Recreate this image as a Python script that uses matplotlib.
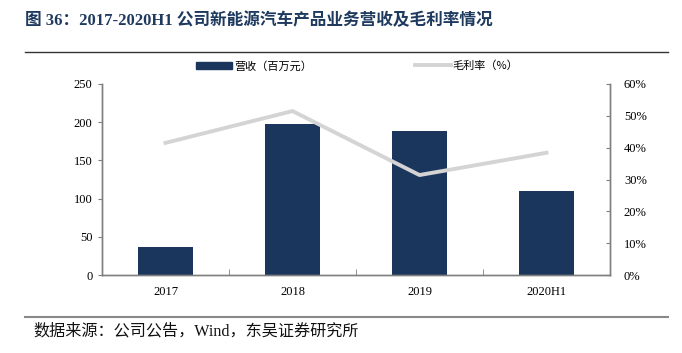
import matplotlib
matplotlib.use("Agg")
import matplotlib.pyplot as plt
from matplotlib.lines import Line2D
from matplotlib.patches import Patch
from matplotlib.ticker import PercentFormatter

categories = ["2017", "2018", "2019", "2020H1"]
revenue = [36, 198, 189, 110]          # 百万元
gross_margin = [41.5, 51.5, 31.4, 38.4]  # %

bar_color = "#1b365d"
line_color = "#d4d4d4"
spine_color = "#7f7f7f"
fam = ["Liberation Serif", "Noto Sans CJK SC"]

plt.rcParams["font.family"] = fam

fig = plt.figure(figsize=(6.82, 3.53), dpi=100)
ax = fig.add_axes([102 / 682, 1 - 275 / 353, (610 - 102) / 682, (275 - 84) / 353])
ax2 = ax.twinx()

xs = range(len(categories))
ax.bar(xs, revenue, width=0.43, color=bar_color, zorder=2)
ax2.plot(xs, gross_margin, color=line_color, linewidth=2.8, zorder=3)

ax.set_xlim(-0.5, len(categories) - 0.5)
ax.set_ylim(0, 250)
ax.set_yticks(range(0, 251, 50))
ax2.set_ylim(0, 60)
ax2.set_yticks(range(0, 61, 10))
ax2.yaxis.set_major_formatter(PercentFormatter(decimals=0))

ax.set_xticks(list(xs))
ax.set_xticklabels(categories)
ax.set_xticks([i + 0.5 for i in range(len(categories) - 1)], minor=True)
ax.tick_params(axis="x", which="major", length=0, pad=8, labelsize=9)
ax.tick_params(axis="x", which="minor", direction="in", length=4, color=spine_color)
ax.tick_params(axis="y", direction="out", length=3, color=spine_color, labelsize=9, pad=4)
ax2.tick_params(axis="y", direction="in", length=3, color=spine_color, labelsize=9, pad=10)

for a in (ax, ax2):
    a.spines["top"].set_visible(False)
    for s in ("left", "right", "bottom"):
        a.spines[s].set_color(spine_color)
        a.spines[s].set_linewidth(1.0)

# legend
handles = [Patch(facecolor=bar_color, edgecolor=bar_color),
           Line2D([0], [0], color=line_color, linewidth=2.8)]
fig.legend(handles, ["营收（百万元）", "毛利率（%）"],
           loc="center left", bbox_to_anchor=(196 / 682, 1 - 66 / 353), ncol=2,
           frameon=False, handlelength=3.2, handletextpad=0.2,
           columnspacing=9.3, borderaxespad=0, borderpad=0,
           prop={"family": ["Noto Sans CJK SC"], "size": 8})

# title and rules
fig.text(25 / 682, 1 - 21 / 353, "图 36：2017-2020H1 公司新能源汽车产品业务营收及毛利率情况",
         fontsize=12, fontweight="bold", color="#1f3a5f", va="center", ha="left",
         family=fam)
fig.add_artist(Line2D([25 / 682, 668 / 682], [1 - 52 / 353] * 2, color="#333333", linewidth=1.0))
fig.add_artist(Line2D([25 / 682, 668 / 682], [1 - 317 / 353] * 2, color="#888888", linewidth=1.5))
fig.text(33 / 682, 1 - 331 / 353, "数据来源：公司公告，Wind，东吴证券研究所",
         fontsize=11.6, color="#111111", va="center", ha="left", family=fam)

fig.savefig("out.png", dpi=100)
